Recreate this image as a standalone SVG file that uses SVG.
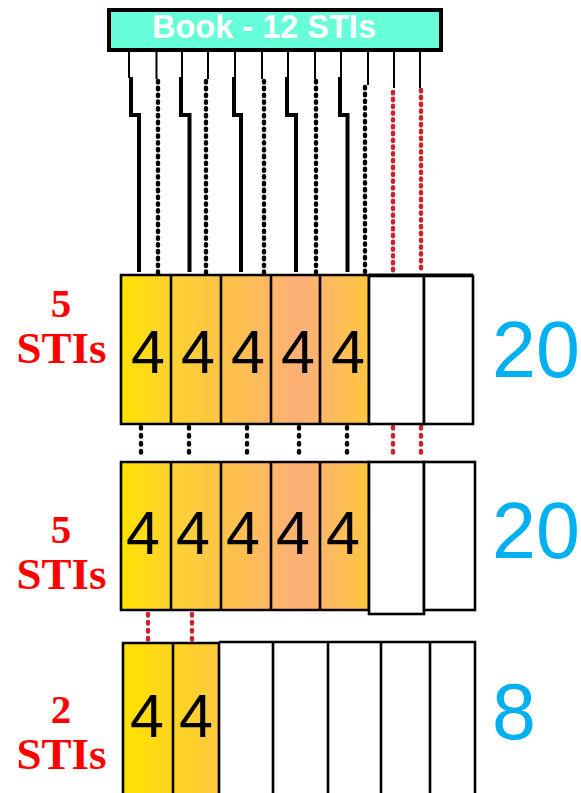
<svg xmlns="http://www.w3.org/2000/svg" width="581" height="793" viewBox="0 0 581 793">
<style>
.cell{stroke:#000;stroke-width:2.6}
.w{fill:#fff}
.four{font-family:"Liberation Sans",Arial,sans-serif;font-size:61px;fill:#000;text-anchor:middle}
.lbl{font-family:"Liberation Serif","Times New Roman",serif;font-weight:bold;fill:#FF0000;text-anchor:middle}
.num{font-family:"Liberation Sans",Arial,sans-serif;font-size:79px;fill:#00B0F0}
.thin{stroke:#000;stroke-width:2;fill:none}
.thick{stroke:#000;stroke-width:4;fill:none;stroke-linejoin:miter}
.dot{stroke:#000;stroke-width:4.4;stroke-linecap:round;stroke-dasharray:1.4 5.4;fill:none}
.rdot{stroke:#D0202A;stroke-width:4.4;stroke-linecap:round;stroke-dasharray:1.4 5.4;fill:none}
.dot2{stroke:#000;stroke-width:4.4;stroke-linecap:round;stroke-dasharray:1.6 6.4;fill:none}
.rdot2{stroke:#D0202A;stroke-width:4.4;stroke-linecap:round;stroke-dasharray:1.6 6.4;fill:none}
</style>
<defs>
<linearGradient id="g5" gradientUnits="userSpaceOnUse" x1="121" y1="0" x2="369" y2="0">
<stop offset="0" stop-color="#FFE200"/>
<stop offset="0.22" stop-color="#FDD135"/>
<stop offset="0.45" stop-color="#FDC04C"/>
<stop offset="0.72" stop-color="#FDAF78"/>
<stop offset="1" stop-color="#FEC640"/>
</linearGradient>
<linearGradient id="g2" gradientUnits="userSpaceOnUse" x1="123" y1="0" x2="219" y2="0">
<stop offset="0" stop-color="#FFE200"/>
<stop offset="1" stop-color="#FDC93E"/>
</linearGradient>
</defs>

<g id="connectors">
<path class="thin" d="M129,51V78M182,51V78M235,51V78M288,51V78M341,51V78"/>
<path class="thick" d="M131,77V115H139V272"/>
<path class="thick" d="M181,77V115H189.5V272"/>
<path class="thick" d="M234,77V115H241V272"/>
<path class="thick" d="M287,77V115H296V272"/>
<path class="thick" d="M340,77V115H347.5V272"/>
<path class="thin" d="M156.5,51V79M208,51V79M262,51V79M315,51V79M368,51V85"/>
<path class="dot" d="M158,81V273M206,81V273M264,81V273M316,81V273M365,87V273"/>
<path class="thin" d="M394,51V88M420,51V88"/>
<path class="rdot" d="M393,92V273M421,90V273"/>
<path class="dot2" d="M141,427V459M189,427V459M247,427V459M299,427V459M347,427V459"/>
<path class="rdot2" d="M393,427V459M421,427V459"/>
<path class="rdot2" d="M148,614V667M192,614V667"/>
</g>

<g id="book">
<rect x="109" y="10" width="332" height="40" fill="#66FFDA" stroke="#000" stroke-width="4"/>
<text x="264" y="37.5" font-family="Liberation Sans,Arial,sans-serif" font-weight="bold" font-size="32.5" fill="#fff" text-anchor="middle">Book - 12 STIs</text>
</g>

<g id="row1">
<rect x="121" y="275" width="248" height="149" fill="url(#g5)"/>
<path class="cell" fill="none" d="M121,275H369V424H121ZM171,275V424M221,275V424M271,275V424M320,275V424"/>
<rect class="cell w" x="369" y="276" width="55" height="148"/>
<rect class="cell w" x="424" y="276" width="49" height="148"/>
<path d="M369,275H473" stroke="#000" stroke-width="3"/>
<text class="four" x="148" y="373">4</text>
<text class="four" x="198" y="373">4</text>
<text class="four" x="248" y="373">4</text>
<text class="four" x="298" y="373">4</text>
<text class="four" x="348" y="373">4</text>
</g>

<g id="row2">
<rect x="121" y="462" width="248" height="148" fill="url(#g5)"/>
<path class="cell" fill="none" d="M121,462H369V610H121ZM171,462V610M221,462V610M271,462V610M320,462V610"/>
<rect class="cell w" x="369" y="462" width="55" height="152"/>
<rect class="cell w" x="424" y="462" width="51" height="148"/>
<text class="four" x="143" y="554">4</text>
<text class="four" x="193" y="554">4</text>
<text class="four" x="243" y="554">4</text>
<text class="four" x="293" y="554">4</text>
<text class="four" x="343" y="554">4</text>
</g>

<g id="row3">
<rect x="123" y="643" width="96" height="160" fill="url(#g2)"/>
<path class="cell" fill="none" d="M123,803V643H219V803M173,643V803"/>
<path class="cell" fill="none" d="M219,642H475V803M273,642V803M328,642V803M381,642V803M430,642V803"/>
<text class="four" x="147" y="737">4</text>
<text class="four" x="196" y="737">4</text>
</g>

<g id="labels">
<text class="lbl"><tspan x="61" y="317" font-size="41">5</tspan><tspan x="61.5" y="363" font-size="45">STIs</tspan></text>
<text class="lbl"><tspan x="61" y="543" font-size="41">5</tspan><tspan x="61.5" y="589" font-size="45">STIs</tspan></text>
<text class="lbl"><tspan x="61" y="723" font-size="41">2</tspan><tspan x="61.5" y="769" font-size="45">STIs</tspan></text>
</g>

<g id="totals">
<text class="num" x="492" y="377">20</text>
<text class="num" x="492" y="558">20</text>
<text class="num" x="492" y="739">8</text>
</g>
</svg>
